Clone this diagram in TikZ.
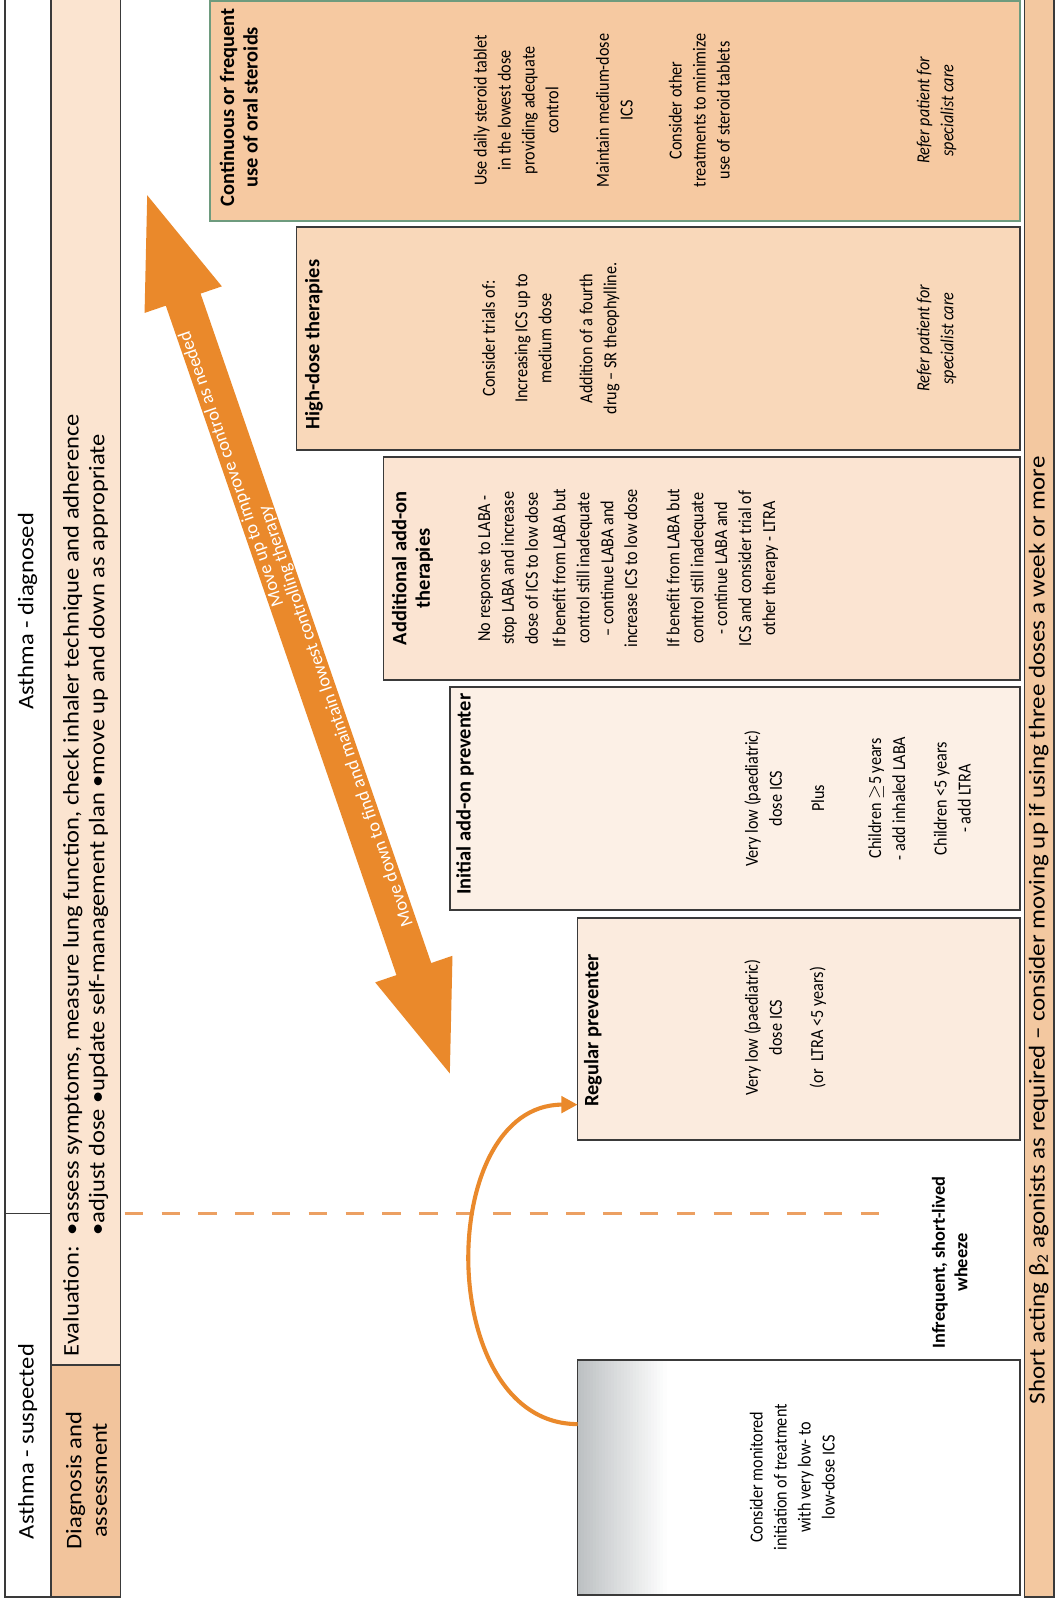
\documentclass[tikz,border=0pt]{standalone}
\usepackage{fontspec}
\setmainfont{Carlito}
\newfontfamily\hdrfont{Carlito}[FakeStretch=1.1]
\newfontfamily\bodyfont{Carlito}[FakeStretch=0.88]
\usetikzlibrary{arrows.meta,calc}
\definecolor{evalfill}{HTML}{FBE4D0}
\definecolor{diagfill}{HTML}{F2C49C}
\definecolor{contfill}{HTML}{F6C9A1}
\definecolor{highfill}{HTML}{F9D8BA}
\definecolor{addlfill}{HTML}{FBE4D2}
\definecolor{initfill}{HTML}{FCF0E6}
\definecolor{regfill}{HTML}{FBEBDE}
\definecolor{barfill}{HTML}{F3C8A0}
\definecolor{arrorange}{HTML}{EA892B}
\definecolor{dashorange}{HTML}{ECA062}
\definecolor{bordergray}{HTML}{3A3A3A}
\definecolor{greenborder}{HTML}{6E9B7E}
\definecolor{consgray}{HTML}{BDC1C3}
\begin{document}
\begin{tikzpicture}[x=0.5pt,y=-0.5pt,
  box/.style={draw=bordergray, line width=0.8pt, anchor=north west, inner sep=0pt, outer sep=0pt},
  rt/.style={rotate=90, inner sep=0pt, align=center},
  body/.style={rt, font=\bodyfont\fontsize{9}{11.7}\selectfont},
  bodyit/.style={rt, font=\bodyfont\itshape\fontsize{9}{11.7}\selectfont},
  ttl/.style={rt, font=\bfseries\fontsize{10}{11.5}\selectfont},
  hdr/.style={rt, font=\hdrfont\fontsize{10.9}{12.5}\selectfont},
  arrtxt/.style={rotate=109, inner sep=0pt, text=white, font=\fontsize{9}{10}\selectfont},
  curvearr/.style={draw=arrorange, line width=2pt, -{Triangle[length=8pt,width=8pt]}},
  dashline/.style={draw=dashorange, line width=1.5pt, dash pattern=on 9pt off 9pt}]
\useasboundingbox (0,0) rectangle (1035,1568);
\fill[white] (0,0) rectangle (1035,1568);

% ---------- header columns ----------
\node[box, fill=white, minimum width=22.5pt, minimum height=595.5pt] (dgcol) at (5,-4) {};
\node[box, fill=white, minimum width=22.5pt, minimum height=187.5pt] (sucol) at (5,1187) {};
\node[box, fill=evalfill, minimum width=34pt, minimum height=669.5pt] (evalcell) at (50,-4) {};
\node[box, fill=diagfill, minimum width=34pt, minimum height=113.5pt] (diagcell) at (50,1335) {};
\node[hdr] (dgtxt) at (27,598) {Asthma - diagnosed};
\node[hdr] (sutxt) at (27,1410) {Asthma - suspected};
\node[hdr] (diagtxt) at (84.5,1448) {Diagnosis and\\assessment};
\node[hdr, anchor=west] (evaltxt) at (84.5,1327) {\begin{tabular}{@{}l@{\ \ }l@{}}Evaluation: & •assess symptoms, measure lung function, check inhaler technique and adherence\\ & •adjust dose •update self-management plan •move up and down as appropriate\end{tabular}};

% ---------- step boxes ----------
\node[box, draw=greenborder, line width=1pt, fill=contfill, minimum width=396.5pt, minimum height=107.5pt] (cont) at (205,1) {};
\node[box, fill=highfill, minimum width=354pt, minimum height=109pt] (high) at (290,222) {};
\node[box, fill=addlfill, minimum width=311.5pt, minimum height=109pt] (addl) at (375,447) {};
\node[box, fill=initfill, minimum width=279pt, minimum height=109pt] (init) at (440,672) {};
\node[box, fill=regfill, minimum width=216.5pt, minimum height=108.5pt] (reg) at (565,898) {};
\foreach \i in {0,...,29}{
  \pgfmathsetmacro\pc{100-\i*100/29}
  \fill[consgray!\pc!white] ({565+\i*3},1330) rectangle ({565+\i*3+3.3},1560);
}
\node[box, minimum width=216.5pt, minimum height=115pt] (cons) at (565,1330) {};
\node[box, fill=barfill, minimum width=14.5pt, minimum height=783pt] (bar) at (1002,-4) {};

% ---------- titles ----------
\node[ttl] (contT) at (233.5,105) {Continuous or frequent\\use of oral steroids};
\node[ttl] (highT) at (307,337) {High-dose therapies};
\node[ttl] (addlT) at (403.5,556) {Additional add-on\\therapies};
\node[ttl] (initT) at (455,777) {Initial add-on preventer};
\node[ttl] (regT) at (580,1008) {Regular preventer};

% ---------- box texts ----------
\node[body] (c1) at (505,108) {Use daily steroid tablet\\in the lowest dose\\providing adequate\\control};
\node[body] (c2) at (601,108) {Maintain medium-dose\\ICS};
\node[body] (c3) at (684,108) {Consider other\\treatments to minimize\\use of steroid tablets};
\node[bodyit] (c4) at (916,108) {Refer patient for\\specialist care};

\node[body] (h1) at (478,331) {Consider trials of:};
\node[body] (h2) at (521.5,331) {Increasing ICS up to\\medium dose};
\node[body] (h3) at (586.5,331) {Addition of a fourth\\drug – SR theophylline.};
\node[bodyit] (h4) at (916,331) {Refer patient for\\specialist care};

\node[body] (a1) at (497,556) {No response to LABA -\\stop LABA and increase\\dose of ICS to low dose};
\node[body] (a2) at (582,556) {If benefit from LABA but\\control still inadequate\\– continue LABA and\\increase ICS to low dose};
\node[body] (a3) at (706.5,556) {If benefit from LABA but\\control still inadequate\\- continue LABA and\\ICS and consider trial of\\other therapy - LTRA};

\node[body] (i1) at (746.5,781) {Very low (paediatric)\\dose ICS};
\node[body] (i2) at (800,781) {Plus};
\node[body] (i3) at (867.5,781) {Children $\geq$5 years\\- add inhaled LABA};
\node[body] (i4) at (931.5,781) {Children <5 years\\- add LTRA};

\node[body] (r1) at (746.5,1005) {Very low (paediatric)\\dose ICS};
\node[body] (r2) at (800,1005) {(or~ LTRA <5 years)};

\node[body] (s1) at (775,1445) {Consider monitored\\initiation of treatment\\with very low- to\\low-dose ICS};
\node[ttl, font=\bfseries\fontsize{9}{11}\selectfont] (infreq) at (929,1235) {Infrequent, short-lived\\wheeze};

\node[hdr, font=\hdrfont\fontsize{11.1}{13}\selectfont] (bartxt) at (1016,910) {Short acting β\textsubscript{2} agonists as required – consider moving up if using three doses a week or more};

% ---------- dashed separator ----------
\coordinate (dashA) at (122,1187);
\coordinate (dashB) at (862,1187);
\draw[dashline] (dashA) -- (dashB);

% ---------- curved arrow ----------
\draw[curvearr] ([yshift=26pt]cons.west) .. controls +(-70pt,0pt) and +(-70pt,0pt) .. ([yshift=-37pt]reg.west);

% ---------- big double arrow ----------
\coordinate (T1) at (144,191);
\coordinate (T2) at (440,1050);
\fill[arrorange] (T1) -- (217.0,280.1) -- (196.2,287.2) -- (421.8,942.0) -- (442.6,934.9) -- (T2)
  -- (367.0,960.9) -- (387.8,953.8) -- (162.2,299.0) -- (141.4,306.1) -- cycle;
\node[arrtxt] (mvup) at (226.7,458.6) {Move up to improve control as needed};
\node[arrtxt] (mvdn) at (329.1,700.5) {Move down to find and maintain lowest controlling therapy};
\end{tikzpicture}
\end{document}
